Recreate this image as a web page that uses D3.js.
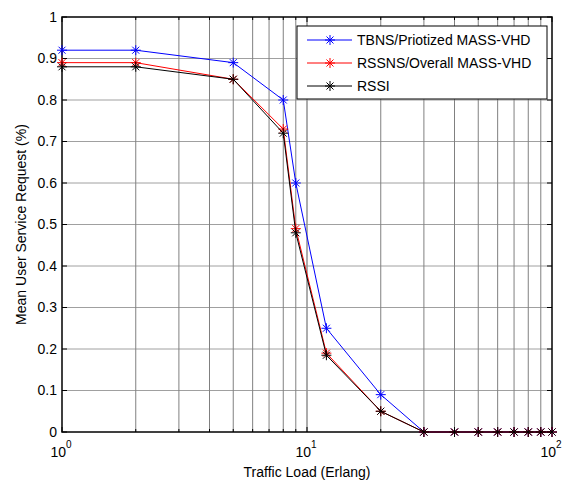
<!DOCTYPE html>
<html>
<head>
<meta charset="utf-8">
<script src="https://cdn.jsdelivr.net/npm/d3@7"></script>
<style>
  body { margin: 0; background: #fff; }
  text { font-family: Arial, "Liberation Sans", sans-serif; fill: #000; }
</style>
</head>
<body>
<svg id="chart"></svg>
<script>
const width = 563;
const height = 483;

// data
const load = [1, 2, 5, 8, 9, 12, 20, 30, 40, 50, 60, 70, 80, 90, 100];
const tbns = [0.92, 0.92, 0.89, 0.80, 0.60, 0.25, 0.09, 0, 0, 0, 0, 0, 0, 0, 0];
const rssns = [0.89, 0.89, 0.85, 0.73, 0.49, 0.19, 0.05, 0, 0, 0, 0, 0, 0, 0, 0];
const rssi = [0.88, 0.88, 0.85, 0.72, 0.48, 0.185, 0.05, 0, 0, 0, 0, 0, 0, 0, 0];
const seriesNames = ["TBNS/Priotized MASS-VHD", "RSSNS/Overall MASS-VHD", "RSSI"];
const seriesColors = ["#0000ff", "#ff0000", "#000000"];
const yTicks = [0, 0.1, 0.2, 0.3, 0.4, 0.5, 0.6, 0.7, 0.8, 0.9, 1];
const xMajor = [1, 10, 100];
const xMinor = [2, 3, 4, 5, 6, 7, 8, 9, 20, 30, 40, 50, 60, 70, 80, 90];

const margin = { left: 62, right: 11, top: 17, bottom: 51 };
const iw = width - margin.left - margin.right;
const ih = height - margin.top - margin.bottom;

const svg = d3.select('#chart')
  .attr('width', width)
  .attr('height', height);

const g = svg.append('g').attr('transform', `translate(${margin.left},${margin.top})`);

const x = d3.scaleLog().domain([1, 100]).range([0, iw]);
const y = d3.scaleLinear().domain([0, 1]).range([ih, 0]);

// grid
g.selectAll('.hgrid').data(yTicks.slice(1, -1)).join('line')
  .attr('x1', 0).attr('x2', iw)
  .attr('y1', d => y(d)).attr('y2', d => y(d))
  .attr('stroke', '#a0a0a0').attr('stroke-width', 1);

g.selectAll('.vgrid').data(xMinor.concat([10])).join('line')
  .attr('x1', d => x(d)).attr('x2', d => x(d))
  .attr('y1', 0).attr('y2', ih)
  .attr('stroke', d => d == 10 ? '#909090' : '#808080')
  .attr('stroke-width', d => d == 10 ? 1.5 : 1);

// ticks pointing inward on all sides
const tickG = g.append('g').attr('stroke', '#000').attr('stroke-width', 1);
yTicks.forEach(v => {
  tickG.append('line').attr('x1', 0).attr('x2', 5).attr('y1', y(v)).attr('y2', y(v));
  tickG.append('line').attr('x1', iw).attr('x2', iw - 5).attr('y1', y(v)).attr('y2', y(v));
});
xMajor.forEach(v => {
  tickG.append('line').attr('x1', x(v)).attr('x2', x(v)).attr('y1', ih).attr('y2', ih - 5);
  tickG.append('line').attr('x1', x(v)).attr('x2', x(v)).attr('y1', 0).attr('y2', 5);
});
xMinor.forEach(v => {
  tickG.append('line').attr('x1', x(v)).attr('x2', x(v)).attr('y1', ih).attr('y2', ih - 3);
  tickG.append('line').attr('x1', x(v)).attr('x2', x(v)).attr('y1', 0).attr('y2', 3);
});

// frame
g.append('rect')
  .attr('width', iw).attr('height', ih)
  .attr('fill', 'none').attr('stroke', '#000').attr('stroke-width', 1.5);

// y tick labels
g.selectAll('.ylab').data(yTicks).join('text')
  .attr('x', -5).attr('y', d => y(d))
  .attr('dy', '0.35em')
  .attr('text-anchor', 'end')
  .attr('font-size', 14)
  .text(d => d3.format('~g')(d));

// x tick labels 10^n
xMajor.forEach((v, i) => {
  const t = g.append('text')
    .attr('x', x(v) - 1).attr('y', ih + 25)
    .attr('text-anchor', 'middle')
    .attr('font-size', 14);
  t.append('tspan').text('10');
  t.append('tspan').attr('dy', -9).attr('font-size', 10).text(i);
});

// axis titles
svg.append('text')
  .attr('x', margin.left + iw / 2).attr('y', 477)
  .attr('text-anchor', 'middle')
  .attr('font-size', 14)
  .text('Traffic Load (Erlang)');

svg.append('text')
  .attr('transform', `translate(26,${margin.top + ih / 2}) rotate(-90)`)
  .attr('text-anchor', 'middle')
  .attr('font-size', 14)
  .text('Mean User Service Request (%)');

// asterisk marker like matlab '*'
const star = r => {
  const k = r * 0.7;
  return `M${-r},0L${r},0M0,${-r}L0,${r}M${-k},${-k}L${k},${k}M${-k},${k}L${k},${-k}`;
};

const allSeries = [tbns, rssns, rssi];
const line = d3.line().x(d => x(d[0])).y(d => y(d[1]));

allSeries.forEach((vals, i) => {
  const pts = load.map((l, j) => [l, vals[j]]);
  g.append('path')
    .attr('d', line(pts))
    .attr('fill', 'none')
    .attr('stroke', seriesColors[i])
    .attr('stroke-width', 1);
  g.selectAll('.m' + i).data(pts).join('path')
    .attr('transform', d => `translate(${x(d[0])},${y(d[1])})`)
    .attr('d', star(5))
    .attr('fill', 'none')
    .attr('stroke', seriesColors[i])
    .attr('stroke-width', 1);
});

// legend
const lg = svg.append('g').attr('transform', 'translate(297,26)');
lg.append('rect')
  .attr('width', 250).attr('height', 73)
  .attr('fill', '#fff').attr('stroke', '#000').attr('stroke-width', 1);
seriesNames.forEach((name, i) => {
  const yy = 14 + i * 23;
  lg.append('line')
    .attr('x1', 10).attr('x2', 55).attr('y1', yy).attr('y2', yy)
    .attr('stroke', seriesColors[i]);
  lg.append('path')
    .attr('transform', `translate(33,${yy})`)
    .attr('d', star(5))
    .attr('fill', 'none')
    .attr('stroke', seriesColors[i]);
  lg.append('text')
    .attr('x', 60).attr('y', yy)
    .attr('dy', '0.35em')
    .attr('font-size', 14)
    .text(name);
});
</script>
</body>
</html>
